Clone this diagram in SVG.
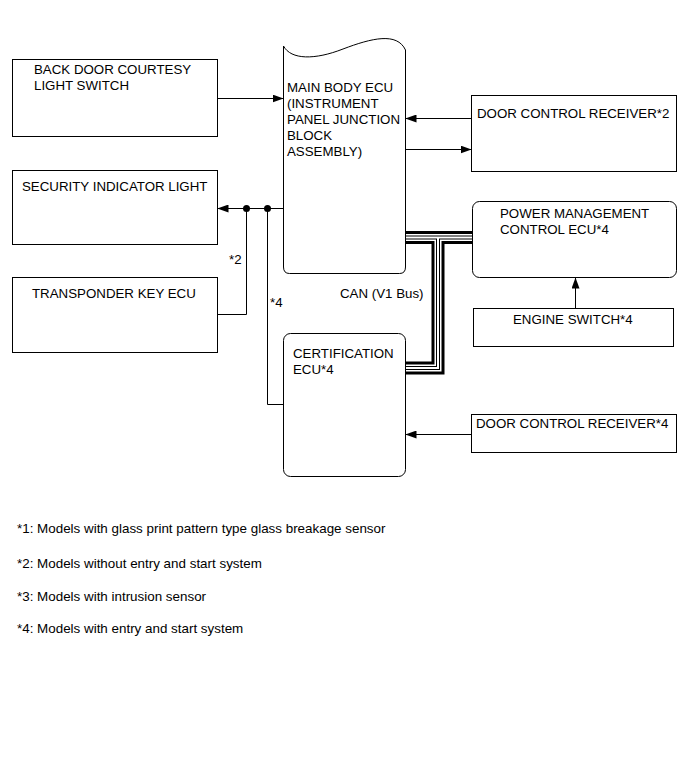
<svg xmlns="http://www.w3.org/2000/svg" width="691" height="757" viewBox="0 0 691 757">
<defs>
<marker id="ah" markerWidth="11" markerHeight="8" refX="11" refY="4" orient="auto" markerUnits="userSpaceOnUse">
<path d="M0,0 L11,4 L0,8 Z" fill="#000"/>
</marker>
<style>
.box{fill:#fff;stroke:#000;stroke-width:1}
.t{font-family:"Liberation Sans",Arial,sans-serif;font-size:13.3px;fill:#000}
.fn{font-family:"Liberation Sans",Arial,sans-serif;font-size:13.4px;fill:#000}
.ln{fill:none;stroke:#000;stroke-width:1}
.arr{fill:none;stroke:#000;stroke-width:1;marker-end:url(#ah)}
.c1{fill:none;stroke:#000;stroke-width:13;stroke-linejoin:miter}
.c2{fill:none;stroke:#fff;stroke-width:7;stroke-linejoin:miter}
.c3{fill:none;stroke:#000;stroke-width:4;stroke-linejoin:miter}
.c4{fill:none;stroke:#fff;stroke-width:2;stroke-linejoin:miter}
</style>
</defs>
<rect width="691" height="757" fill="#fff"/>

<g id="connectors">
<g id="can-bus">
<path class="c1" d="M406,237.5 H473 M438,237.5 V368 H406"/>
<path class="c2" d="M406,237.5 H473 M438,237.5 V368 H406"/>
<path class="c3" d="M406,237.5 H473 M438,237.5 V368 H406"/>
<path class="c4" d="M406,237.5 H473 M438,237.5 V368 H406"/>
</g>
<path class="arr" d="M217.5,98.5 H283.5"/>
<path class="arr" d="M283.5,208.5 H217.5"/>
<path class="ln" d="M246.5,208.5 V314.5 H217.5"/>
<path class="ln" d="M267.5,208.5 V404.5 H283.5"/>
<circle cx="246.5" cy="208.5" r="3.5" fill="#000"/>
<circle cx="267.5" cy="208.5" r="3.5" fill="#000"/>
<path class="arr" d="M471.5,118.5 H405.5"/>
<path class="arr" d="M405.5,149.5 H471.5"/>
<path class="arr" d="M575.5,308.5 V277.5"/>
<path class="arr" d="M471.5,434.5 H405.5"/>
<text class="t" x="229" y="264" font-size="12.5">*2</text>
<text class="t" x="270" y="307" font-size="12.5">*4</text>
<text class="t" x="340" y="298">CAN (V1 Bus)</text>
</g>

<g id="main-body-ecu">
<path class="box" d="M283.5,46 C291,60 315,60 343,49 C372,38 397,32 405.5,50 L405.5,267 Q405.5,273.5 399.5,273.5 L289.5,273.5 Q283.5,273.5 283.5,267 Z"/>
<text class="t" x="287" y="92">MAIN BODY ECU</text>
<text class="t" x="287" y="108">(INSTRUMENT</text>
<text class="t" x="287" y="124">PANEL JUNCTION</text>
<text class="t" x="287" y="140">BLOCK</text>
<text class="t" x="287" y="156">ASSEMBLY)</text>
</g>

<g id="back-door-courtesy-light-switch">
<rect class="box" x="12.5" y="59.5" width="205" height="77"/>
<text class="t" x="34" y="74">BACK DOOR COURTESY</text>
<text class="t" x="34" y="90">LIGHT SWITCH</text>
</g>

<g id="security-indicator-light">
<rect class="box" x="12.5" y="170.5" width="205" height="74"/>
<text class="t" x="22" y="191">SECURITY INDICATOR LIGHT</text>
</g>

<g id="transponder-key-ecu">
<rect class="box" x="12.5" y="277.5" width="205" height="75"/>
<text class="t" x="32" y="298">TRANSPONDER KEY ECU</text>
</g>

<g id="door-control-receiver-2">
<rect class="box" x="471.5" y="95.5" width="205" height="76"/>
<text class="t" x="477" y="118">DOOR CONTROL RECEIVER*2</text>
</g>

<g id="power-management-control-ecu">
<rect class="box" x="472.5" y="201.5" width="204" height="76" rx="7" ry="7"/>
<text class="t" x="500" y="218">POWER MANAGEMENT</text>
<text class="t" x="500" y="234">CONTROL ECU*4</text>
</g>

<g id="engine-switch">
<rect class="box" x="473.5" y="308.5" width="200" height="38"/>
<text class="t" x="513" y="324">ENGINE SWITCH*4</text>
</g>

<g id="certification-ecu">
<rect class="box" x="283.5" y="333.5" width="122" height="143" rx="7" ry="7"/>
<text class="t" x="293" y="358">CERTIFICATION</text>
<text class="t" x="293" y="374">ECU*4</text>
</g>

<g id="door-control-receiver-4">
<rect class="box" x="471.5" y="414.5" width="205" height="38"/>
<text class="t" x="476" y="428">DOOR CONTROL RECEIVER*4</text>
</g>

<g id="footnotes">
<text class="fn" x="17" y="533">*1: Models with glass print pattern type glass breakage sensor</text>
<text class="fn" x="17" y="568">*2: Models without entry and start system</text>
<text class="fn" x="17" y="601">*3: Models with intrusion sensor</text>
<text class="fn" x="17" y="633">*4: Models with entry and start system</text>
</g>
</svg>
